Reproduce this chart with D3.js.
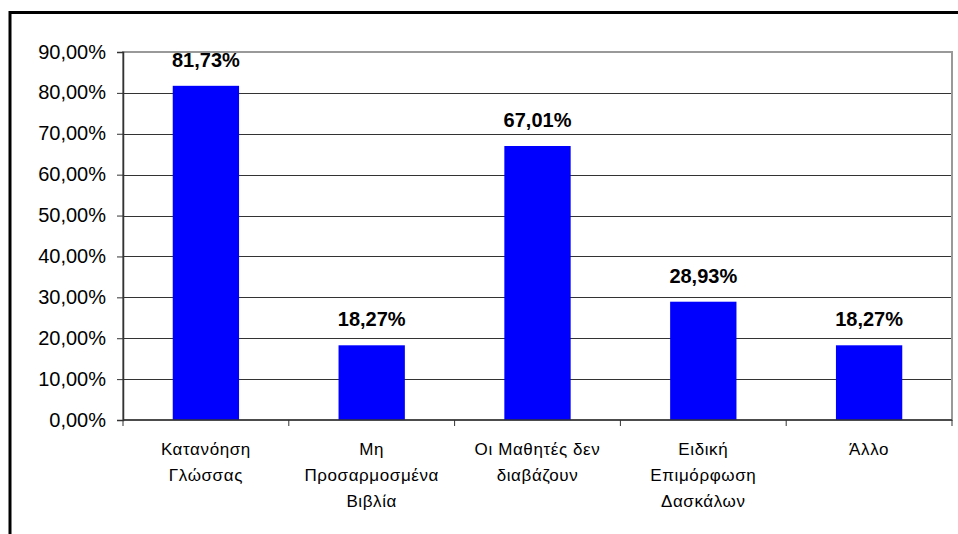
<!DOCTYPE html>
<html>
<head>
<meta charset="utf-8">
<script src="https://cdn.jsdelivr.net/npm/d3@7"></script>
<style>
  body { margin: 0; background: #fff; }
  svg { display: block; font-family: "Liberation Sans", Arial, sans-serif; }
</style>
</head>
<body>
<div id="chart"></div>
<script>
// categories (lines of each label) and values in %
var categorias = [
  ["Κατανόηση", "Γλώσσας"],
  ["Μη", "Προσαρμοσμένα", "Βιβλία"],
  ["Οι Μαθητές δεν", "διαβάζουν"],
  ["Ειδική", "Επιμόρφωση", "Δασκάλων"],
  ["Άλλο"]
];
var valores = [81.73, 18.27, 67.01, 28.93, 18.27];
var ticksY = [0, 10, 20, 30, 40, 50, 60, 70, 80, 90];

var W = 958, H = 534;
var plot = {left: 123, right: 952, top: 52, bottom: 420};

var fmt = function(v){ return v.toFixed(2).replace(".", ",") + "%"; };

var svg = d3.select("#chart").append("svg")
    .attr("width", W)
    .attr("height", H);

// marco exterior del grafico (se sale de la ventana por derecha y abajo)
svg.append("rect")
    .attr("x", 10).attr("y", 12.5)
    .attr("width", 1000).attr("height", 600)
    .attr("fill", "none")
    .attr("stroke", "#000")
    .attr("stroke-width", 3);

var ids = categorias.map(function(d, i){ return "c" + i; });

var x = d3.scaleBand()
    .domain(ids)
    .range([plot.left, plot.right])
    .paddingInner(0.6)
    .paddingOuter(0.3);

var y = d3.scaleLinear()
    .domain([0, 90])
    .range([plot.bottom, plot.top]);

// lineas de grilla
svg.append("g")
  .selectAll("line")
  .data(ticksY.filter(function(t){ return t > 0 && t < 90; }))
  .enter().append("line")
    .attr("x1", plot.left).attr("x2", plot.right)
    .attr("y1", function(d){ return Math.round(y(d)) + 0.5; })
    .attr("y2", function(d){ return Math.round(y(d)) + 0.5; })
    .attr("stroke", "#333")
    .attr("stroke-width", 1);

// borde del area de trazado
svg.append("rect")
    .attr("x", plot.left).attr("y", plot.top)
    .attr("width", plot.right - plot.left)
    .attr("height", plot.bottom - plot.top)
    .attr("fill", "none")
    .attr("stroke", "#999")
    .attr("stroke-width", 2);

// barras
svg.append("g")
  .selectAll("rect")
  .data(valores)
  .enter().append("rect")
    .attr("x", function(d, i){ return x(ids[i]); })
    .attr("width", x.bandwidth())
    .attr("y", function(d){ return y(d); })
    .attr("height", function(d){ return y(0) - y(d); })
    .attr("fill", "#0000ff");

// etiquetas de valor
svg.append("g")
  .selectAll("text")
  .data(valores)
  .enter().append("text")
    .attr("x", function(d, i){ return x(ids[i]) + x.bandwidth() / 2; })
    .attr("y", function(d){ return y(d) - 19; })
    .attr("text-anchor", "middle")
    .style("font-size", "20px")
    .style("font-weight", "bold")
    .attr("fill", "#000")
    .text(fmt);

// eje Y
var ejeY = d3.axisLeft(y)
    .tickValues(ticksY)
    .tickSize(6)
    .tickPadding(11)
    .tickFormat(fmt);

var gy = svg.append("g")
    .attr("transform", "translate(" + plot.left + ",0)")
    .call(ejeY);
gy.select(".domain").attr("stroke", "#333").attr("stroke-width", 1.5);
gy.selectAll(".tick line").attr("stroke", "#333");
gy.selectAll(".tick text")
    .style("font-size", "20px")
    .style("font-family", "'Liberation Sans', Arial, sans-serif")
    .attr("fill", "#000")
    .attr("dy", "0.3em");

// eje X: linea base y marcas entre categorias
var paso = x.step();
var bordes = ids.map(function(id){ return x(id) + x.bandwidth() / 2 - paso / 2; });
bordes.push(plot.right);

svg.append("line")
    .attr("x1", plot.left).attr("x2", plot.right)
    .attr("y1", plot.bottom).attr("y2", plot.bottom)
    .attr("stroke", "#333").attr("stroke-width", 1.5);

svg.append("g")
  .selectAll("line")
  .data(bordes)
  .enter().append("line")
    .attr("x1", function(d){ return d; }).attr("x2", function(d){ return d; })
    .attr("y1", plot.bottom).attr("y2", plot.bottom + 6)
    .attr("stroke", "#333");

// etiquetas de categorias
var etiq = svg.append("g")
  .selectAll("text")
  .data(categorias)
  .enter().append("text")
    .attr("x", function(d, i){ return x(ids[i]) + x.bandwidth() / 2; })
    .attr("y", 455)
    .attr("text-anchor", "middle")
    .style("font-size", "17px")
    .style("letter-spacing", "0.6px")
    .attr("fill", "#000");

etiq.selectAll("tspan")
  .data(function(d, i){ return d.map(function(t){ return {t: t, i: i}; }); })
  .enter().append("tspan")
    .attr("x", function(d){ return x(ids[d.i]) + x.bandwidth() / 2; })
    .attr("dy", function(d, j){ return j === 0 ? 0 : 26; })
    .text(function(d){ return d.t; });
</script>
</body>
</html>
